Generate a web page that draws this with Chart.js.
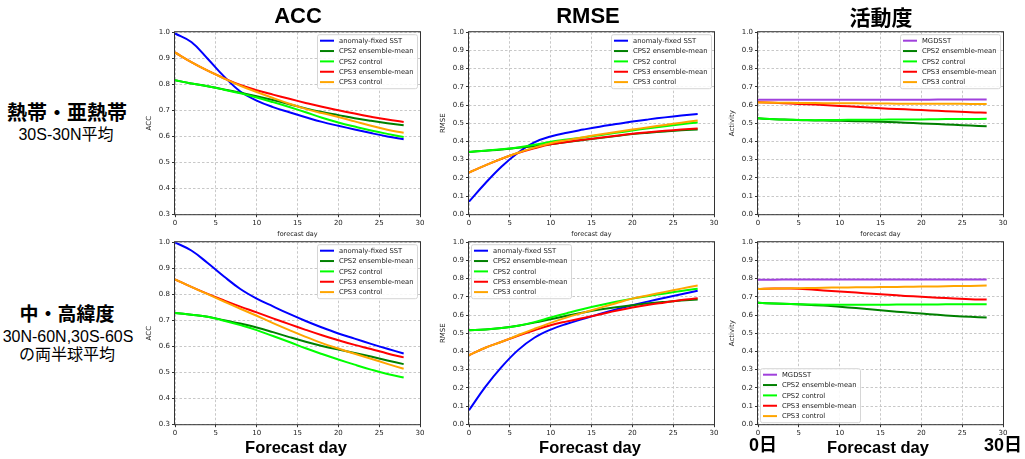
<!DOCTYPE html>
<html>
<head>
<meta charset="utf-8">
<script src="https://cdn.jsdelivr.net/npm/chart.js@4.4.0/dist/chart.umd.min.js"></script>
<style>
  html, body { margin: 0; padding: 0; background: #fff; }
  body { position: relative; width: 1025px; height: 459px; overflow: hidden; }
  canvas { position: absolute; }
  .lbl { position: absolute; white-space: nowrap; line-height: 1; transform: translate(-50%, -50%); color: #000; }
  .big { font-family: "Liberation Sans", "Noto Sans CJK JP", sans-serif; font-weight: bold; }
  .jp { font-family: "Noto Sans CJK JP", sans-serif; font-weight: bold; }
  .sub { font-family: "Liberation Sans", "Noto Sans CJK JP", sans-serif; }
</style>
</head>
<body>
<canvas id="acc-trop"></canvas>
<canvas id="rmse-trop"></canvas>
<canvas id="act-trop"></canvas>
<canvas id="acc-ext"></canvas>
<canvas id="rmse-ext"></canvas>
<canvas id="act-ext"></canvas>

<div class="lbl big" style="left:298px;top:16px;font-size:22px">ACC</div>
<div class="lbl big" style="left:588px;top:16px;font-size:22px">RMSE</div>
<div class="lbl jp" style="left:881px;top:16px;font-size:21px">活動度</div>

<div class="lbl jp" style="left:67px;top:112px;font-size:20px">熱帯・亜熱帯</div>
<div class="lbl sub" style="left:66px;top:135px;font-size:16px">30S-30N平均</div>
<div class="lbl jp" style="left:67px;top:312px;font-size:19px">中・高緯度</div>
<div class="lbl sub" style="left:68px;top:337px;font-size:16px">30N-60N,30S-60S</div>
<div class="lbl sub" style="left:67px;top:355px;font-size:16px">の両半球平均</div>

<div class="lbl big" style="left:296px;top:447px;font-size:16.5px">Forecast day</div>
<div class="lbl big" style="left:590px;top:447px;font-size:16.5px">Forecast day</div>
<div class="lbl big" style="left:878px;top:447px;font-size:16.5px">Forecast day</div>
<div class="lbl big" style="left:763px;top:445px;font-size:18px">0日</div>
<div class="lbl big" style="left:1003px;top:445px;font-size:18px">30日</div>

<script>
/*jshint esversion: 9 */

const days = [0, 2, 4, 6, 8, 10, 12, 14, 16, 18, 20, 22, 24, 26, 28];

const modelNames = ['anomaly-fixed SST', 'CPS2 ensemble-mean', 'CPS2 control', 'CPS3 ensemble-mean', 'CPS3 control'];
const activityNames = ['MGDSST', 'CPS2 ensemble-mean', 'CPS2 control', 'CPS3 ensemble-mean', 'CPS3 control'];

// 30S-30N
const accTropAnomaly = [0.995, 0.962, 0.898, 0.830, 0.772, 0.737, 0.712, 0.692, 0.673, 0.655, 0.640, 0.626, 0.612, 0.599, 0.588];
const accTropCps2Ens = [0.815, 0.803, 0.792, 0.780, 0.767, 0.754, 0.739, 0.723, 0.707, 0.693, 0.681, 0.669, 0.659, 0.650, 0.642];
const accTropCps2Ctl = [0.815, 0.803, 0.792, 0.779, 0.765, 0.749, 0.731, 0.712, 0.692, 0.671, 0.653, 0.637, 0.622, 0.609, 0.597];
const accTropCps3Ens = [0.922, 0.885, 0.852, 0.823, 0.797, 0.777, 0.760, 0.744, 0.728, 0.713, 0.700, 0.687, 0.675, 0.664, 0.655];
const accTropCps3Ctl = [0.922, 0.885, 0.852, 0.822, 0.794, 0.770, 0.747, 0.725, 0.705, 0.689, 0.674, 0.657, 0.640, 0.625, 0.613];

const rmseTropAnomaly = [0.069, 0.170, 0.262, 0.338, 0.395, 0.427, 0.448, 0.465, 0.481, 0.495, 0.509, 0.521, 0.532, 0.542, 0.551];
const rmseTropCps2Ens = [0.342, 0.349, 0.356, 0.365, 0.374, 0.384, 0.396, 0.407, 0.418, 0.429, 0.440, 0.448, 0.455, 0.461, 0.465];
const rmseTropCps2Ctl = [0.342, 0.349, 0.357, 0.367, 0.381, 0.398, 0.410, 0.422, 0.434, 0.447, 0.460, 0.472, 0.483, 0.494, 0.504];
const rmseTropCps3Ens = [0.229, 0.268, 0.305, 0.336, 0.362, 0.384, 0.397, 0.409, 0.420, 0.431, 0.442, 0.450, 0.458, 0.465, 0.471];
const rmseTropCps3Ctl = [0.229, 0.268, 0.305, 0.338, 0.366, 0.390, 0.407, 0.423, 0.438, 0.452, 0.465, 0.478, 0.490, 0.503, 0.515];

const actTropMgdsst = [0.629, 0.629, 0.629, 0.629, 0.629, 0.629, 0.629, 0.629, 0.629, 0.629, 0.629, 0.630, 0.630, 0.630, 0.630];
const actTropCps2Ens = [0.527, 0.522, 0.519, 0.516, 0.515, 0.513, 0.511, 0.509, 0.506, 0.503, 0.499, 0.495, 0.491, 0.487, 0.483];
const actTropCps2Ctl = [0.527, 0.522, 0.519, 0.517, 0.517, 0.518, 0.519, 0.519, 0.520, 0.521, 0.521, 0.522, 0.523, 0.523, 0.524];
const actTropCps3Ens = [0.615, 0.612, 0.608, 0.604, 0.600, 0.595, 0.590, 0.585, 0.580, 0.576, 0.572, 0.568, 0.564, 0.560, 0.558];
const actTropCps3Ctl = [0.614, 0.613, 0.612, 0.611, 0.610, 0.609, 0.609, 0.608, 0.608, 0.607, 0.607, 0.607, 0.607, 0.606, 0.606];

// 30N-60N, 30S-60S
const accExtAnomaly = [0.999, 0.968, 0.920, 0.868, 0.820, 0.783, 0.753, 0.724, 0.697, 0.672, 0.649, 0.629, 0.609, 0.590, 0.572];
const accExtCps2Ens = [0.728, 0.721, 0.713, 0.700, 0.687, 0.672, 0.654, 0.635, 0.617, 0.601, 0.587, 0.574, 0.560, 0.545, 0.531];
const accExtCps2Ctl = [0.728, 0.721, 0.713, 0.698, 0.681, 0.662, 0.639, 0.616, 0.592, 0.570, 0.549, 0.529, 0.510, 0.493, 0.480];
const accExtCps3Ens = [0.857, 0.828, 0.801, 0.776, 0.752, 0.730, 0.707, 0.685, 0.663, 0.642, 0.623, 0.605, 0.589, 0.572, 0.557];
const accExtCps3Ctl = [0.857, 0.828, 0.800, 0.772, 0.744, 0.717, 0.689, 0.662, 0.636, 0.612, 0.591, 0.571, 0.552, 0.532, 0.513];

const rmseExtAnomaly = [0.077, 0.205, 0.315, 0.407, 0.475, 0.520, 0.552, 0.579, 0.606, 0.631, 0.654, 0.675, 0.695, 0.714, 0.733];
const rmseExtCps2Ens = [0.516, 0.520, 0.528, 0.541, 0.558, 0.577, 0.596, 0.614, 0.630, 0.643, 0.654, 0.664, 0.672, 0.679, 0.685];
const rmseExtCps2Ctl = [0.516, 0.520, 0.528, 0.541, 0.561, 0.586, 0.610, 0.633, 0.654, 0.673, 0.690, 0.705, 0.718, 0.732, 0.744];
const rmseExtCps3Ens = [0.379, 0.420, 0.453, 0.486, 0.516, 0.544, 0.565, 0.584, 0.603, 0.623, 0.641, 0.656, 0.669, 0.682, 0.692];
const rmseExtCps3Ctl = [0.379, 0.420, 0.453, 0.489, 0.524, 0.557, 0.587, 0.613, 0.639, 0.665, 0.690, 0.709, 0.727, 0.745, 0.762];

const actExtMgdsst = [0.794, 0.794, 0.795, 0.795, 0.795, 0.795, 0.795, 0.795, 0.795, 0.795, 0.795, 0.795, 0.795, 0.795, 0.795];
const actExtCps2Ens = [0.667, 0.663, 0.660, 0.657, 0.652, 0.645, 0.638, 0.630, 0.622, 0.615, 0.608, 0.601, 0.595, 0.590, 0.586];
const actExtCps2Ctl = [0.667, 0.663, 0.660, 0.658, 0.657, 0.657, 0.657, 0.657, 0.657, 0.658, 0.658, 0.658, 0.659, 0.659, 0.659];
const actExtCps3Ens = [0.743, 0.746, 0.745, 0.741, 0.735, 0.729, 0.723, 0.717, 0.711, 0.705, 0.700, 0.695, 0.691, 0.687, 0.685];
const actExtCps3Ctl = [0.743, 0.745, 0.747, 0.748, 0.750, 0.751, 0.752, 0.753, 0.754, 0.755, 0.756, 0.757, 0.759, 0.760, 0.762];

const modelColors = ['#0000ff', '#008000', '#00ff00', '#ff0000', '#ffa500'];
const activityColors = ['#a040dc', '#008000', '#00ff00', '#ff0000', '#ffa500'];

const PLOT_W = 245;
const PLOT_H = 182;
const PAD_TOP = 6;

const panels = [
    {id: 'acc-trop', x: 175, y: 32, yTitle: 'ACC', yMin: 0.3, names: modelNames, colors: modelColors, legend: 'ur', xTitle: true,
        series: [accTropAnomaly, accTropCps2Ens, accTropCps2Ctl, accTropCps3Ens, accTropCps3Ctl]},
    {id: 'rmse-trop', x: 469, y: 32, yTitle: 'RMSE', yMin: 0, names: modelNames, colors: modelColors, legend: 'ur', xTitle: true,
        series: [rmseTropAnomaly, rmseTropCps2Ens, rmseTropCps2Ctl, rmseTropCps3Ens, rmseTropCps3Ctl]},
    {id: 'act-trop', x: 758, y: 32, yTitle: 'Activity', yMin: 0, names: activityNames, colors: activityColors, legend: 'ur', xTitle: true,
        series: [actTropMgdsst, actTropCps2Ens, actTropCps2Ctl, actTropCps3Ens, actTropCps3Ctl]},
    {id: 'acc-ext', x: 175, y: 242, yTitle: 'ACC', yMin: 0.3, names: modelNames, colors: modelColors, legend: 'ur', xTitle: false,
        series: [accExtAnomaly, accExtCps2Ens, accExtCps2Ctl, accExtCps3Ens, accExtCps3Ctl]},
    {id: 'rmse-ext', x: 469, y: 242, yTitle: 'RMSE', yMin: 0, names: modelNames, colors: modelColors, legend: 'ul', xTitle: false,
        series: [rmseExtAnomaly, rmseExtCps2Ens, rmseExtCps2Ctl, rmseExtCps3Ens, rmseExtCps3Ctl]},
    {id: 'act-ext', x: 758, y: 242, yTitle: 'Activity', yMin: 0, names: activityNames, colors: activityColors, legend: 'll', xTitle: false,
        series: [actExtMgdsst, actExtCps2Ens, actExtCps2Ctl, actExtCps3Ens, actExtCps3Ctl]},
];

Chart.defaults.font.family = '"DejaVu Sans", sans-serif';
Chart.defaults.color = '#222';

// black box round the plot, like matplotlib spines
const framePlugin = {
    id: 'frame',
    afterDatasetsDraw: chart => {
        const {ctx, chartArea: a} = chart;
        ctx.save();
        ctx.setLineDash([]);
        ctx.strokeStyle = '#333';
        ctx.lineWidth = 1;
        ctx.strokeRect(a.left - 0.5, a.top - 0.5, a.right - a.left + 1, a.bottom - a.top + 1);
        ctx.restore();
    },
};

// legend box inside the plot area
const legendPlugin = {
    id: 'boxLegend',
    afterDraw: (chart, args, opts) => {
        const {ctx, chartArea: a} = chart;
        const w = 100, h = 54, row = 10.35;
        const x = opts.corner[1] === 'r' ? a.right - 3 - w : a.left + 2;
        const y = opts.corner[0] === 'u' ? a.top + 2 : a.bottom - 2 - h;

        ctx.save();
        ctx.fillStyle = 'rgba(255, 255, 255, 0.85)';
        ctx.strokeStyle = '#d6d6d6';
        ctx.lineWidth = 1;
        ctx.beginPath();
        ctx.roundRect(x + 0.5, y + 0.5, w, h, 2);
        ctx.fill();
        ctx.stroke();

        ctx.font = '6.8px "DejaVu Sans"';
        ctx.textBaseline = 'middle';
        chart.data.datasets.forEach((ds, i) => {
            const ly = y + 6.5 + i * row;
            ctx.strokeStyle = ds.borderColor;
            ctx.lineWidth = 2;
            ctx.beginPath();
            ctx.moveTo(x + 3, ly);
            ctx.lineTo(x + 17, ly);
            ctx.stroke();
            ctx.fillStyle = '#222';
            ctx.fillText(ds.label, x + 22, ly + 0.5);
        });
        ctx.restore();
    },
};

const tickFont = {size: 7};
const titleFont = {size: 7};

const makeChart = p => {
    const canvas = document.getElementById(p.id);
    canvas.width = 300;
    canvas.height = 230;

    const chart = new Chart(canvas, {
        type: 'line',
        data: {
            datasets: p.series.map((vals, i) => ({
                label: p.names[i],
                data: days.map((d, j) => ({x: d, y: vals[j]})),
                borderColor: p.colors[i],
                backgroundColor: p.colors[i],
                borderWidth: 2,
                pointRadius: 0,
                fill: false,
                tension: 0.4,
                order: -i,
            })),
        },
        options: {
            responsive: false,
            maintainAspectRatio: false,
            animation: false,
            events: [],
            layout: {padding: {top: PAD_TOP, right: 8, left: 0, bottom: 0}},
            plugins: {
                legend: {display: false},
                tooltip: {enabled: false},
                boxLegend: {corner: p.legend},
            },
            scales: {
                x: {
                    type: 'linear',
                    min: 0,
                    max: 30,
                    ticks: {stepSize: 5, font: tickFont, color: '#222', padding: 2, maxRotation: 0},
                    grid: {color: '#c8c8c8', lineWidth: 1, tickLength: 3, tickColor: '#333'},
                    border: {display: false, dash: [2.5, 2]},
                    title: {display: p.xTitle, text: 'forecast day', font: {size: 6.5}, color: '#222', padding: {top: 0, bottom: 0}},
                    afterFit: s => { s.height = Math.ceil(s.height); },
                },
                y: {
                    min: p.yMin,
                    max: 1.0,
                    ticks: {stepSize: 0.1, font: tickFont, color: '#222', padding: 2, callback: v => v.toFixed(1)},
                    grid: {color: '#c8c8c8', lineWidth: 1, tickLength: 3, tickColor: '#333'},
                    border: {display: false, dash: [2.5, 2]},
                    title: {display: true, text: p.yTitle, font: titleFont, color: '#222', padding: {top: 0, bottom: 3}},
                    afterFit: s => { s.width = Math.ceil(s.width); },
                },
            },
        },
        plugins: [framePlugin, legendPlugin],
    });

    // size the canvas so the plot area is exactly PLOT_W x PLOT_H, then place it
    const a = chart.chartArea;
    chart.resize(chart.width + PLOT_W - (a.right - a.left), chart.height + PLOT_H - (a.bottom - a.top));
    const b = chart.chartArea;
    canvas.style.left = (p.x - b.left) + 'px';
    canvas.style.top = (p.y - b.top) + 'px';
    return chart;
};

panels.forEach(makeChart);
</script>
</body>
</html>
